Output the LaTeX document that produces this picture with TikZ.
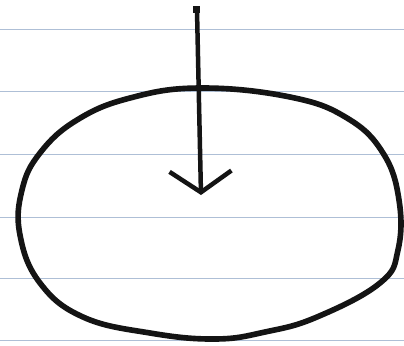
\documentclass[tikz,border=0pt]{standalone}
\usetikzlibrary{arrows.meta}
\definecolor{ruleblue}{HTML}{AEBFD6}
\definecolor{inkblack}{HTML}{141414}
\tikzset{
  rule/.style={ruleblue, line width=0.7pt},
  ink/.style={inkblack, line width=4pt, line cap=round, line join=round},
  pointer/.style={ink, line width=3.2pt,
    -{Straight Barb[length=15pt, width=44pt, line width=3.2pt]}},
}
\begin{document}
\begin{tikzpicture}[x=0.025cm, y=-0.025cm]
  \useasboundingbox (0,0) rectangle (404,345);
  \fill[white] (0,0) rectangle (404,345);
  % ruled paper
  \foreach \yy in {29,91,154,217,278,340}{
    \draw[rule] (0,\yy) -- (404,\yy);
  }
  % the loop
  \draw[ink] plot[smooth cycle, tension=0.7] coordinates {
    (200,88) (290,97) (347,118) (383,153) (399,200) (398,250)
    (380,283) (317,317) (265,332) (215,339) (150,333) (83,317) (40,283)
    (20,235) (22,190) (40,153) (77,120) (130,98)};
  % arrow from above into the loop
  \coordinate (tail) at (197,10);
  \coordinate (tip) at (201,195);
  \draw[pointer] (tail) -- (tip);
  \fill[inkblack] (193,6) rectangle (200,13);
\end{tikzpicture}
\end{document}
